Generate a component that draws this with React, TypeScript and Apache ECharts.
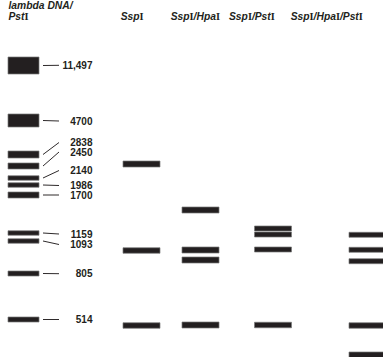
import React, { useEffect, useRef } from "react";
import * as echarts from "echarts";

// Ladder (lambda DNA / PstI) fragment sizes and their band positions (migration distance)
const ladderSizes = ["11,497", "4700", "2838", "2450", "2140", "1986", "1700", "1159", "1093", "805", "514"];
const ladderBandPos = [65.5, 120.5, 154.5, 166, 178, 185, 195, 233, 241, 273.5, 319.5];
const ladderBandThick = [17, 13, 7, 6, 4.5, 4.5, 6, 4.5, 4.5, 5, 5];
const ladderLabelPos = [65.3, 121, 142.5, 152, 170.5, 185.5, 195, 234, 244.5, 273.7, 319.5];

// Digest lanes
const laneNames = ["SspI", "SspI/HpaI", "SspI/PstI", "SspI/HpaI/PstI"];
const sspIBands = [164, 250.5, 325.5];
const sspIThick = [6, 5.5, 5.5];
const sspIHpaIBands = [210, 250, 260, 325];
const sspIHpaIThick = [6, 6, 6, 6];
const sspIPstIBands = [228.5, 234.5, 249.5, 325];
const sspIPstIThick = [5, 5, 5, 5.5];
const sspIHpaIPstIBands = [234.8, 249.8, 261.2, 325.5, 356];
const sspIHpaIPstIThick = [5, 5, 5, 5.5, 8];

// layout
const W = 383;
const H = 357;
const ladderCenter = 23.5;
const ladderWidth = 31;
const laneCenters = [141.5, 200.5, 273, 367.5];
const laneWidth = 37;
const titleX = [120.7, 170.7, 229, 290.7];

const INK = "#231f20";
const FONT = '"Liberation Sans", Arial, Helvetica, sans-serif';

export default function App() {
  const ref = useRef<HTMLDivElement>(null);

  useEffect(() => {
    if (!ref.current) return;
    const chart = echarts.init(ref.current, undefined, { renderer: "svg" });

    const lanes = [
      { bands: sspIBands, thick: sspIThick },
      { bands: sspIHpaIBands, thick: sspIHpaIThick },
      { bands: sspIPstIBands, thick: sspIPstIThick },
      { bands: sspIHpaIPstIBands, thick: sspIHpaIPstIThick },
    ];

    const bandData: number[][] = [];
    ladderBandPos.forEach((p, i) => bandData.push([ladderCenter, p, ladderBandThick[i], ladderWidth]));
    lanes.forEach((l, li) =>
      l.bands.forEach((p, i) => bandData.push([laneCenters[li], p, l.thick[i], laneWidth]))
    );

    const labelData = ladderSizes.map((s, i) => [ladderBandPos[i], ladderLabelPos[i], i]);

    const rich = {
      it: {
        fontStyle: "italic",
        fontWeight: "bold",
        fontSize: 10.3,
        lineHeight: 10,
        fontFamily: FONT,
        fill: INK,
        color: INK,
      },
      rm: {
        fontStyle: "normal",
        fontWeight: "bold",
        fontSize: 10.3,
        lineHeight: 10,
        fontFamily: '"Liberation Serif", "Times New Roman", serif',
        fill: INK,
        color: INK,
      },
    };
    const toRich = (name: string) =>
      name
        .split("/")
        .map((part) => `{it|${part.slice(0, -1)}}{rm|I}`)
        .join("{it|/}");

    const graphics: any[] = [
      {
        type: "text",
        x: 8.5,
        y: 5.5,
        style: { text: "{it|lambda DNA/}", rich, verticalAlign: "middle", align: "left" },
      },
      {
        type: "text",
        x: 8.5,
        y: 16,
        style: { text: toRich("PstI"), rich, verticalAlign: "middle", align: "left" },
      },
      ...laneNames.map((n, i) => ({
        type: "text",
        x: titleX[i],
        y: 16,
        style: { text: toRich(n), rich, verticalAlign: "middle", align: "left" },
      })),
    ];

    chart.setOption({
      animation: false,
      grid: { left: 0, right: 0, top: 0, bottom: 0 },
      xAxis: { type: "value", min: 0, max: W, show: false },
      yAxis: { type: "value", min: 0, max: H, inverse: true, show: false },
      graphic: graphics,
      series: [
        {
          type: "custom",
          data: bandData,
          clip: false,
          renderItem: (params: any, api: any) => {
            const cx = api.value(0);
            const cy = api.value(1);
            const h = api.value(2);
            const w = api.value(3);
            const p1 = api.coord([cx - w / 2, cy - h / 2]);
            const p2 = api.coord([cx + w / 2, cy + h / 2]);
            return {
              type: "rect",
              shape: {
                x: Math.min(p1[0], p2[0]),
                y: Math.min(p1[1], p2[1]),
                width: Math.abs(p2[0] - p1[0]),
                height: Math.abs(p2[1] - p1[1]),
              },
              style: { fill: INK, stroke: "#7a7a7a", lineWidth: 0.7 },
            };
          },
        },
        {
          type: "custom",
          data: labelData,
          clip: false,
          renderItem: (params: any, api: any) => {
            const bandPos = api.value(0);
            const labelPos = api.value(1);
            const idx = api.value(2);
            const a = api.coord([43, bandPos]);
            const b = api.coord([59, labelPos]);
            const t = api.coord([92.5, labelPos]);
            return {
              type: "group",
              children: [
                {
                  type: "line",
                  shape: { x1: a[0], y1: a[1], x2: b[0], y2: b[1] },
                  style: { stroke: "#2e2a2b", lineWidth: 1 },
                },
                {
                  type: "text",
                  x: t[0],
                  y: t[1],
                  style: {
                    text: ladderSizes[idx],
                    align: "right",
                    verticalAlign: "middle",
                    font: `bold 10px ${FONT}`,
                    fill: INK,
                  },
                },
              ],
            };
          },
        },
      ],
    });

    return () => chart.dispose();
  }, []);

  return (
    <div
      ref={ref}
      style={{ position: "absolute", left: 0, top: 0, width: W, height: H, background: "#fff" }}
    />
  );
}
